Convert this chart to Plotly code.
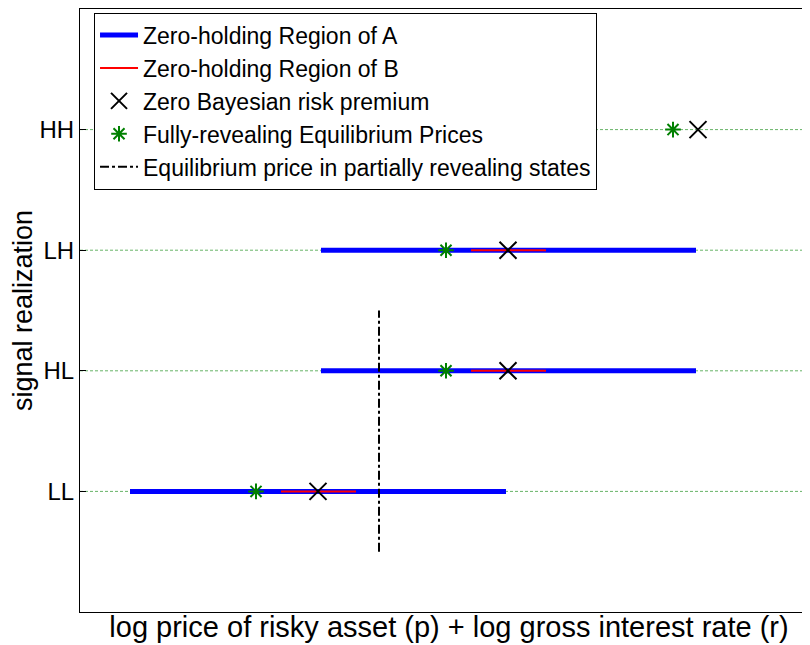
import plotly.graph_objects as go

# signal realizations (y positions 1..4)
signals = ['LL', 'HL', 'LH', 'HH']
signal_y = [1, 2, 3, 4]

# zero-holding region of A (start, end) per signal; None = no region
region_a = {'LL': (0.50, 4.26), 'HL': (2.41, 6.16), 'LH': (2.41, 6.16), 'HH': None}
# zero-holding region of B
region_b = {'LL': (2.01, 2.76), 'HL': (3.91, 4.66), 'LH': (3.91, 4.66), 'HH': None}
# zero Bayesian risk premium
zero_premium = [2.38, 4.28, 4.28, 6.18]
# fully-revealing equilibrium prices
full_reveal = [1.76, 3.66, 3.66, 5.93]
# equilibrium price in partially revealing states
partial_price = 2.99
partial_span = (0.5, 2.5)

x_range = [0, 7.38]
y_range = [0, 5]

font = "Liberation Sans, Arial, sans-serif"

fig = go.Figure()

# thin dashed guide lines at each signal level
for y in signal_y:
    fig.add_trace(go.Scatter(
        x=x_range, y=[y, y], mode='lines',
        line=dict(color='rgba(0,128,0,0.6)', width=1, dash='3px,2px'),
        showlegend=False, hoverinfo='skip'
    ))

# region of A
first = True
for s, y in zip(signals, signal_y):
    if region_a[s] is None:
        continue
    fig.add_trace(go.Scatter(
        x=list(region_a[s]), y=[y, y], mode='lines',
        line=dict(color='#0000ff', width=5),
        name='Zero-holding Region of A', legendgroup='a',
        showlegend=first
    ))
    first = False

# region of B
first = True
for s, y in zip(signals, signal_y):
    if region_b[s] is None:
        continue
    fig.add_trace(go.Scatter(
        x=list(region_b[s]), y=[y, y], mode='lines',
        line=dict(color='#ff0000', width=2),
        name='Zero-holding Region of B', legendgroup='b',
        showlegend=first
    ))
    first = False

fig.add_trace(go.Scatter(
    x=zero_premium, y=signal_y, mode='markers',
    marker=dict(symbol='x-thin-open', size=17, color='black',
                line=dict(color='black', width=2)),
    name='Zero Bayesian risk premium', legendgroup='c'
))

fig.add_trace(go.Scatter(
    x=full_reveal, y=signal_y, mode='markers',
    marker=dict(symbol='asterisk-open', size=13, color='#008000',
                line=dict(color='#008000', width=2)),
    name='Fully-revealing Equilibrium Prices', legendgroup='d'
))

fig.add_trace(go.Scatter(
    x=[partial_price, partial_price], y=list(partial_span), mode='lines',
    line=dict(color='black', width=2, dash='dashdot'),
    name='Equilibrium price in partially revealing states', legendgroup='e'
))

# page body adds 8px, so margins are shifted to compensate
fig.update_layout(
    width=810, height=645,
    margin=dict(l=72, r=0, t=1, b=41),
    paper_bgcolor='white', plot_bgcolor='white',
    font=dict(family=font, color='black'),
    showlegend=True,
    legend=dict(
        x=0.019, y=0.994, xanchor='left', yanchor='top',
        bgcolor='white', bordercolor='black', borderwidth=1,
        font=dict(size=23, family=font),
        traceorder='grouped', tracegroupgap=0,
        itemwidth=38
    ),
    xaxis=dict(
        range=x_range, showticklabels=False, ticks='',
        showgrid=False, zeroline=False, automargin=False,
        showline=True, linecolor='black', linewidth=1, mirror=True,
        title=dict(text='log price of risky asset (p) + log gross interest rate (r)',
                   font=dict(size=29, family=font), standoff=4)
    ),
    yaxis=dict(
        range=y_range, tickvals=signal_y, ticktext=signals,
        ticks='inside', ticklen=6, tickcolor='black',
        tickfont=dict(size=24, family=font),
        showgrid=False, zeroline=False, automargin=False,
        showline=True, linecolor='black', linewidth=1, mirror=False,
        title=dict(text='signal realization', font=dict(size=27, family=font),
                   standoff=6)
    ),
)

fig.write_html("out.html")
